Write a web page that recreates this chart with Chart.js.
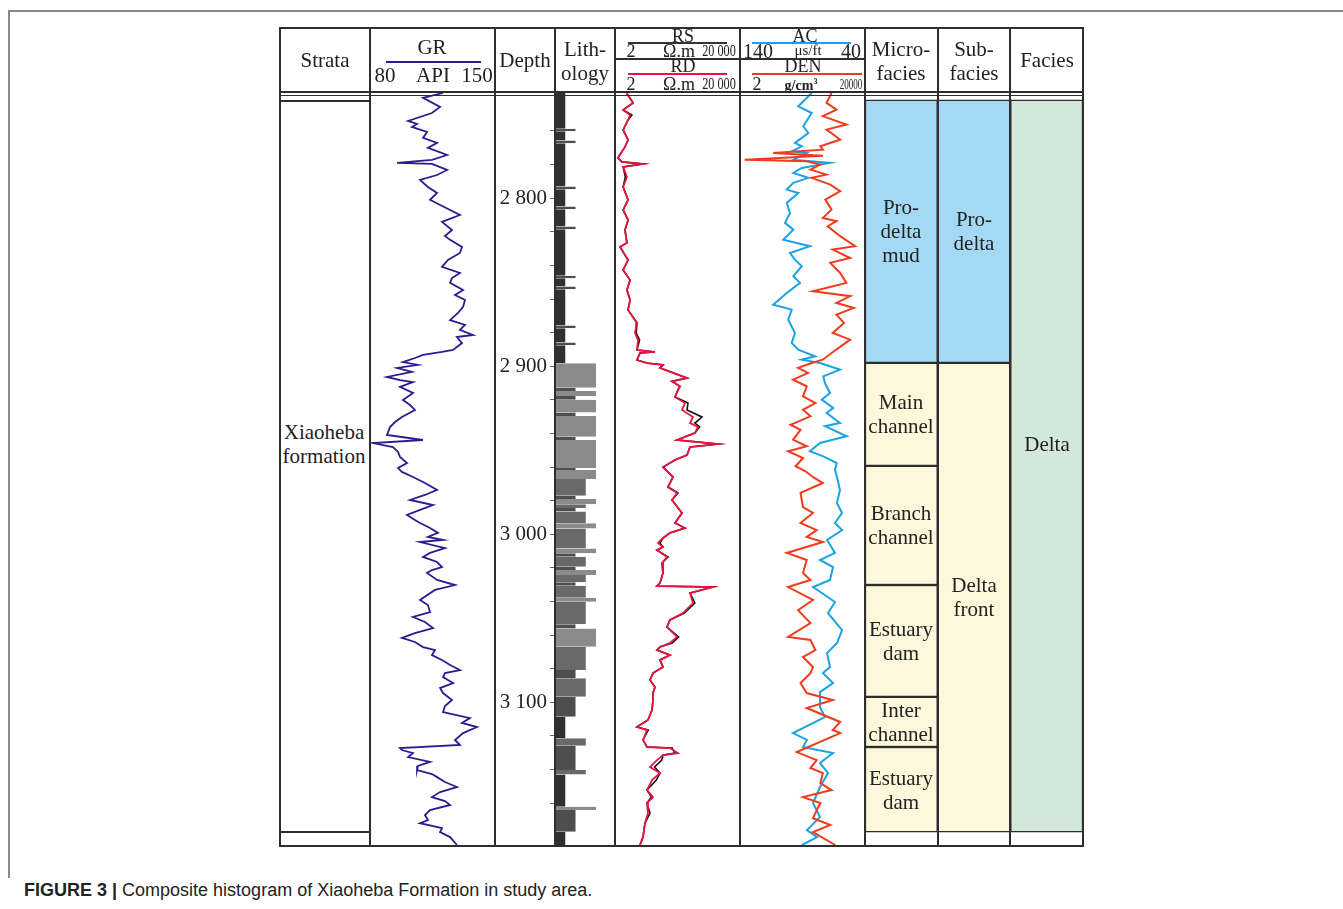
<!DOCTYPE html>
<html>
<head>
<meta charset="utf-8">
<script src="https://cdn.jsdelivr.net/npm/chart.js@4.4.1/dist/chart.umd.min.js"></script>
<style>
  body { margin: 0; background: #fff; width: 1343px; height: 909px; position: relative; overflow: hidden;
         font-family: "Liberation Serif", "Times New Roman", serif; color: #222; }
  .hl { position: absolute; background: #2e2e2e; height: 2px; z-index: 3; }
  .vl { position: absolute; background: #2e2e2e; width: 2px; z-index: 3; }
  .t { position: absolute; font-size: 21px; line-height: 24px; text-align: center; white-space: nowrap;
       transform: translate(-50%, -50%); z-index: 4; }
  .trk { position: absolute; top: 93px; }
  #caption { position: absolute; left: 24px; top: 880px; font-family: "Liberation Sans", Arial, sans-serif;
             font-size: 18px; color: #222; white-space: nowrap; }
</style>
</head>
<body>
<div id="frame"></div>

<canvas id="grChart" class="trk" width="123" height="753" style="left:371px"></canvas>
<canvas id="lithChart" class="trk" width="120" height="753" style="left:495px"></canvas>
<canvas id="resChart" class="trk" width="124" height="753" style="left:616px"></canvas>
<canvas id="acChart" class="trk" width="124" height="753" style="left:741px"></canvas>
<canvas id="faciesChart" class="trk" width="218" height="753" style="left:865px"></canvas>

<div id="caption"><b>FIGURE 3 |</b> Composite histogram of Xiaoheba Formation in study area.</div>

<script>
// ---- data ----
const grDepth = [2737.4, 2740.3, 2745.7, 2749.3, 2754.0, 2755.8, 2757.6, 2760.6, 2764.1, 2767.1, 2770.1, 2774.3,
  2777.2, 2779.0, 2779.6, 2783.2, 2786.2, 2789.1, 2793.3, 2796.9, 2801.0, 2807.0, 2810.0, 2814.1, 2818.9, 2822.5,
  2824.8, 2829.0, 2832.6, 2836.8, 2840.9, 2844.5, 2847.5, 2850.4, 2854.6, 2857.6, 2860.6, 2864.7, 2868.3, 2872.5,
  2875.4, 2878.4, 2881.4, 2882.6, 2886.2, 2890.3, 2891.5, 2893.3, 2895.1, 2897.5, 2899.2, 2901.0, 2903.4, 2906.4,
  2908.2, 2909.4, 2912.3, 2915.9, 2920.1, 2923.1, 2926.0, 2930.2, 2933.2, 2936.2, 2940.9, 2943.9, 2945.7, 2948.1,
  2951.0, 2954.0, 2957.6, 2960.6, 2962.9, 2965.9, 2969.5, 2973.6, 2976.6, 2979.6, 2982.6, 2985.5, 2988.5, 2991.5,
  2993.3, 2996.3, 2999.2, 3001.6, 3003.4, 3004.6, 3008.2, 3011.1, 3013.5, 3016.5, 3019.5, 3021.3, 3023.0, 3027.2,
  3030.2, 3033.1, 3039.1, 3042.1, 3046.3, 3049.2, 3052.2, 3055.8, 3058.8, 3061.7, 3064.1, 3067.1, 3068.9, 3071.9,
  3074.8, 3077.8, 3080.8, 3082.6, 3085.0, 3088.5, 3091.5, 3094.5, 3098.6, 3102.2, 3105.8, 3109.4, 3112.3, 3114.7,
  3118.3, 3122.4, 3125.4, 3127.2, 3128.4, 3130.2, 3132.6, 3135.5, 3137.9, 3140.3, 3142.7, 3144.5, 3147.4, 3150.4,
  3153.4, 3156.4, 3158.8, 3161.1, 3164.1, 3167.1, 3170.1, 3171.9, 3174.8, 3177.2, 3180.2, 3184.9];
const grValue = [121.0, 109.6, 119.3, 114.7, 101.1, 106.2, 103.3, 111.9, 109.6, 117.6, 112.4, 123.3,
  114.7, 94.8, 114.7, 123.3, 117.6, 107.9, 112.4, 117.6, 113.6, 125.0, 130.6, 120.4, 126.1, 122.1,
  125.0, 131.8, 130.6, 123.8, 120.4, 130.6, 126.1, 125.0, 132.4, 127.8, 133.5, 132.4, 129.5, 125.0,
  133.5, 130.6, 138.0, 128.9, 131.8, 126.7, 120.4, 109.6, 105.0, 98.2, 106.7, 94.8, 103.3, 89.1,
  96.5, 103.9, 96.5, 103.9, 98.2, 102.2, 105.0, 97.6, 93.7, 90.8, 89.1, 109.6, 81.1, 92.5,
  95.4, 96.5, 100.5, 95.4, 97.6, 103.9, 110.7, 117.6, 110.7, 102.2, 115.3, 107.9, 100.5, 105.0,
  107.9, 113.6, 118.1, 112.4, 121.0, 107.9, 122.1, 113.6, 109.6, 117.6, 120.4, 114.7, 111.9, 117.6,
  127.8, 116.4, 107.9, 112.4, 113.6, 103.9, 110.7, 115.3, 105.0, 97.6, 105.0, 109.6, 116.4, 114.7,
  120.4, 125.0, 130.6, 122.1, 121.0, 126.7, 119.3, 121.0, 126.1, 122.1, 121.0, 136.3, 131.8, 140.3,
  132.4, 127.8, 130.6, 96.5, 97.6, 103.9, 101.1, 113.6, 106.7, 106.2, 114.7, 117.6, 122.1, 128.9,
  119.3, 114.7, 122.1, 125.0, 113.6, 110.7, 112.4, 107.9, 120.4, 119.3, 125.0, 128.9];

const resDepth = [2737.4, 2743.3, 2747.5, 2750.5, 2753.4, 2759.4, 2765.3, 2769.5, 2776.0, 2778.4, 2779.6, 2781.4,
  2787.4, 2793.3, 2801.0, 2807.0, 2812.9, 2818.9, 2826.6, 2829.0, 2836.8, 2842.7, 2848.7, 2854.6, 2860.6, 2866.5,
  2874.3, 2880.2, 2884.4, 2890.3, 2891.5, 2892.1, 2896.3, 2898.1, 2899.2, 2901.0, 2905.0, 2907.0, 2909.0, 2912.0,
  2914.1, 2918.3, 2921.9, 2926.0, 2930.2, 2933.8, 2936.1, 2939.7, 2943.9, 2946.3, 2948.1, 2952.8, 2955.8, 2960.0,
  2965.9, 2971.9, 2975.4, 2979.6, 2987.3, 2993.3, 2996.3, 2999.2, 3002.2, 3005.2, 3007.6, 3009.4, 3013.5, 3017.1,
  3023.0, 3029.0, 3030.8, 3031.4, 3035.0, 3040.9, 3046.9, 3051.0, 3055.2, 3061.1, 3064.7, 3067.1, 3068.9, 3071.9,
  3074.8, 3079.0, 3082.6, 3086.7, 3090.9, 3094.5, 3098.6, 3104.6, 3110.5, 3114.7, 3116.5, 3122.4, 3126.6, 3127.2,
  3130.2, 3131.4, 3134.4, 3138.5, 3142.1, 3146.3, 3152.2, 3156.4, 3159.9, 3165.9, 3171.9, 3180.2, 3184.9];
const rdValue = [4.4, 7.1, 3.4, 5.7, 4.9, 3.4, 4.9, 3.9, 2.3, 3.1, 14.9, 3.4,
  4.5, 3.4, 4.9, 3.4, 4.9, 3.9, 4.5, 2.7, 4.9, 3.4, 5.7, 4.5, 5.7, 4.9,
  9.5, 8.2, 10.3, 9.5, 36.2, 11.9, 9.5, 20, 65.6, 52.5, 200, 390, 128, 232,
  200, 160, 336, 269, 610, 488, 883, 706, 186, 3900, 488, 390, 160, 65.6,
  138, 95, 186, 128, 269, 160, 336, 110, 65.6, 45.3, 65.6, 42, 88.3, 61,
  65.6, 52.5, 42, 2690, 488, 610, 290, 110, 88.3, 186, 110, 52.5, 42, 110,
  52.5, 65.6, 31.3, 25, 36.2, 31.3, 31.3, 29, 21.5, 9.5, 20, 14.9, 20, 110,
  200, 65.6, 42, 25, 52.5, 29, 20, 31.3, 20, 21.5, 17.2, 14.9, 11.9];
const rsValue = [4.4, 7.1, 3.4, 6.5, 4.9, 3.4, 4.9, 3.9, 2.3, 3.1, 14.9, 3.4,
  4.0, 3.4, 4.9, 3.4, 4.9, 3.9, 4.5, 2.7, 4.9, 3.4, 5.7, 4.5, 5.7, 4.9,
  9.5, 9.0, 11.5, 9.5, 36.2, 11.9, 9.5, 20, 65.6, 52.5, 200, 390, 128, 232,
  200, 160, 420, 390, 1190, 700, 1000, 706, 186, 3900, 488, 390, 160, 65.6,
  138, 95, 200, 128, 269, 160, 336, 110, 65.6, 52, 65.6, 42, 95, 61,
  65.6, 52.5, 42, 2690, 488, 700, 320, 110, 88.3, 210, 130, 52.5, 42, 110,
  52.5, 65.6, 31.3, 25, 36.2, 31.3, 31.3, 29, 21.5, 9.5, 22, 14.9, 20, 130,
  160, 65.6, 60, 35, 52.5, 40, 20, 28, 20, 25, 17.2, 14.9, 11.9];

const acDepth = [2737.4, 2745.3, 2749.3, 2757.2, 2761.2, 2767.1, 2769.1, 2772.1, 2773.1, 2777.1, 2779.0, 2782.0,
  2785.0, 2787.9, 2790.9, 2794.9, 2796.9, 2802.8, 2808.8, 2814.7, 2818.7, 2824.7, 2828.6, 2832.6, 2836.6, 2840.5,
  2846.4, 2850.4, 2856.4, 2863.4, 2866.3, 2872.3, 2880.2, 2886.2, 2890.1, 2894.1, 2896.1, 2898.1, 2902.0, 2906.0,
  2910.0, 2915.9, 2919.9, 2924.8, 2927.8, 2933.8, 2935.7, 2941.7, 2945.7, 2950.6, 2953.6, 2957.6, 2961.6, 2965.9,
  2973.6, 2981.4, 2987.3, 2993.3, 2997.5, 3003.4, 3011.1, 3015.3, 3019.5, 3027.2, 3031.4, 3040.3, 3046.9, 3057.0,
  3064.7, 3070.7, 3079.0, 3082.6, 3088.5, 3093.9, 3102.8, 3108.8, 3118.3, 3122.4, 3126.6, 3130.2, 3136.1, 3142.1,
  3150.4, 3159.9, 3168.3, 3176.0, 3180.2, 3184.9];
const acValue = [83.0, 93.8, 83.0, 89.8, 85.7, 96.5, 91.0, 99.1, 87.0, 97.8, 68.2, 91.0,
  97.8, 85.7, 97.8, 103.1, 93.8, 103.1, 100.5, 104.5, 97.8, 105.9, 84.4, 100.5, 96.5, 91.0,
  97.8, 92.4, 103.1, 114.0, 99.1, 101.9, 96.5, 99.1, 93.8, 80.3, 91.0, 76.3, 60.2, 73.6,
  72.3, 68.2, 74.9, 65.6, 70.9, 60.2, 72.3, 54.8, 76.3, 84.4, 73.6, 62.8, 64.2, 62.6,
  60.2, 62.6, 58.5, 64.2, 58.5, 70.6, 64.2, 76.3, 65.8, 68.2, 81.9, 64.2, 69.8, 58.5,
  62.6, 70.6, 68.2, 73.9, 65.8, 76.3, 76.3, 72.3, 98.1, 86.8, 90.0, 65.8, 76.3, 69.8,
  76.3, 81.9, 76.3, 86.8, 78.7, 90.8];

const denDepth = [2737.4, 2743.3, 2747.3, 2751.2, 2756.2, 2759.2, 2765.1, 2769.1, 2771.1, 2773.1, 2774.7, 2777.1,
  2778.0, 2780.0, 2783.0, 2786.0, 2787.9, 2791.9, 2795.8, 2800.8, 2806.8, 2811.7, 2813.7, 2816.7, 2822.6, 2828.6,
  2830.6, 2835.6, 2838.5, 2844.5, 2850.4, 2855.4, 2858.3, 2862.3, 2865.3, 2869.3, 2874.2, 2880.2, 2884.2, 2892.1,
  2896.1, 2898.1, 2901.0, 2904.0, 2908.0, 2911.9, 2917.9, 2921.9, 2925.9, 2929.8, 2934.8, 2937.8, 2943.7, 2947.6,
  2950.6, 2954.6, 2959.5, 2962.5, 2965.9, 2969.5, 2975.4, 2983.8, 2987.3, 2993.3, 2997.5, 3001.6, 3004.6, 3011.1,
  3015.3, 3023.0, 3027.2, 3031.4, 3039.1, 3045.1, 3052.8, 3061.1, 3062.9, 3068.9, 3073.0, 3079.0, 3082.6, 3088.5,
  3094.5, 3098.6, 3103.4, 3111.7, 3116.5, 3118.3, 3129.6, 3134.4, 3139.1, 3142.1, 3148.0, 3152.2, 3156.4, 3159.9,
  3168.9, 3173.0, 3177.2, 3184.9];
const denValue = [2.73, 2.69, 2.77, 2.66, 2.85, 2.69, 2.80, 2.64, 2.66, 2.26, 2.66, 2.03,
  2.53, 2.64, 2.56, 2.69, 2.57, 2.72, 2.80, 2.68, 2.73, 2.66, 2.77, 2.70, 2.80, 2.92,
  2.74, 2.88, 2.72, 2.80, 2.85, 2.58, 2.88, 2.77, 2.91, 2.77, 2.83, 2.74, 2.88, 2.73,
  2.66, 2.57, 2.46, 2.54, 2.42, 2.53, 2.50, 2.60, 2.50, 2.56, 2.40, 2.48, 2.42, 2.53,
  2.38, 2.50, 2.44, 2.52, 2.58, 2.66, 2.48, 2.50, 2.58, 2.48, 2.61, 2.53, 2.66, 2.37,
  2.53, 2.50, 2.56, 2.38, 2.58, 2.46, 2.56, 2.38, 2.56, 2.60, 2.50, 2.58, 2.56, 2.48,
  2.53, 2.74, 2.53, 2.80, 2.74, 2.80, 2.45, 2.61, 2.56, 2.66, 2.64, 2.73, 2.50, 2.64,
  2.58, 2.72, 2.58, 2.76];

// lithology: 1 mudstone, 2 siltstone, 3 fine sandstone, 4 sandstone
const lithTop = [2737.4, 2758.6, 2760.2, 2765.7, 2767.3, 2793.1, 2794.7, 2805.0, 2806.6, 2816.9, 2818.5, 2846.1,
  2847.7, 2852.6, 2854.2, 2875.8, 2877.4, 2885.9, 2887.5, 2898.2, 2912.8, 2914.7, 2917.7, 2920.0, 2927.6, 2929.6,
  2941.9, 2943.9, 2960.6, 2961.8, 2967.1, 2977.0, 2979.0, 2982.2, 2984.4, 2986.5, 2993.5, 2996.5, 3008.4, 3011.3,
  3013.3, 3019.3, 3021.3, 3024.2, 3028.6, 3030.6, 3037.7, 3040.1, 3053.6, 3056.0, 3066.9, 3080.8, 3085.7, 3096.7,
  3108.6, 3121.4, 3125.8, 3140.3, 3142.9, 3162.1, 3164.1, 3177.0];
const lithBase = [2758.6, 2760.2, 2765.7, 2767.3, 2793.1, 2794.7, 2805.0, 2806.6, 2816.9, 2818.5, 2846.1, 2847.7,
  2852.6, 2854.2, 2875.8, 2877.4, 2885.9, 2887.5, 2898.2, 2912.8, 2914.7, 2917.7, 2920.0, 2927.6, 2929.6, 2941.9,
  2943.9, 2960.6, 2961.8, 2967.1, 2977.0, 2979.0, 2982.2, 2984.4, 2986.5, 2993.5, 2996.5, 3008.4, 3011.3, 3013.3,
  3019.3, 3021.3, 3024.2, 3028.6, 3030.6, 3037.7, 3040.1, 3053.6, 3056.0, 3066.9, 3080.8, 3085.7, 3096.7, 3108.6,
  3121.4, 3125.8, 3140.3, 3142.9, 3162.1, 3164.1, 3177.0, 3185.5];
const lithClass = [1, 2, 1, 2, 1, 2, 1, 2, 1, 2, 1, 2,
  1, 2, 1, 2, 1, 2, 1, 4, 2, 4, 2, 4, 2, 4,
  2, 4, 2, 4, 3, 2, 4, 3, 2, 3, 4, 3, 4, 2,
  3, 2, 4, 3, 2, 3, 4, 3, 2, 4, 3, 2, 3, 2,
  1, 3, 2, 3, 1, 4, 2, 1];

const faciesColumns = ["Micro-facies", "Sub-facies", "Facies"];
const microLabels = ["Pro-\ndelta\nmud", "Main\nchannel", "Branch\nchannel", "Estuary\ndam", "Inter\nchannel", "Estuary\ndam"];
const microTop = [2741.5, 2898.0, 2959.3, 3030.2, 3096.8, 3126.6];
const microBase = [2898.0, 2959.3, 3030.2, 3096.8, 3126.6, 3177.2];
const subLabels = ["Pro-\ndelta", "Delta\nfront"];
const subTop = [2741.5, 2898.0];
const subBase = [2898.0, 3177.2];
const faciesLabels = ["Delta"];
const faciesTop = [2741.5];
const faciesBase = [3177.2];

// ---- layout ----
const depthMin = 2737.4, depthMax = 3185.5;

function depthAxis() {
  return { type: "linear", reverse: true, min: depthMin, max: depthMax, display: false };
}
function baseOptions(scales) {
  return {
    responsive: false, animation: false, indexAxis: "y",
    layout: { padding: 0 },
    plugins: { legend: { display: false }, tooltip: { enabled: false } },
    elements: { point: { radius: 0 }, line: { tension: 0 } },
    scales: scales
  };
}
const toPoints = (depths, vals) => depths.map((d, i) => ({ x: vals[i], y: d }));

// GR
new Chart(document.getElementById("grChart"), {
  type: "line",
  data: { datasets: [{ data: toPoints(grDepth, grValue), borderColor: "#2b1c8f", borderWidth: 1.8 }] },
  options: baseOptions({ x: { type: "linear", min: 80, max: 150, display: false }, y: depthAxis() })
});

// depth axis + lithology
const lithColors = { 1: "#30302c", 2: "#4e4e4e", 3: "#696969", 4: "#8b8b8b" };
const lithSets = [1, 2, 3, 4].map(cls => {
  const pts = [];
  lithClass.forEach((c, i) => {
    if (c !== cls) return;
    pts.push({ x: c, y: lithTop[i] }, { x: c, y: lithBase[i] }, { x: null, y: lithBase[i] });
  });
  return { data: pts, borderColor: "transparent", backgroundColor: lithColors[cls], fill: "origin" };
});
const depthY = depthAxis();
Object.assign(depthY, {
  display: true, position: "left",
  afterFit: s => { s.width = 60; s.paddingTop = 0; s.paddingBottom = 0; },
  afterBuildTicks: s => { s.ticks = s.ticks.filter(t => Math.abs(t.value % 20) < 1e-6); },
  ticks: {
    stepSize: 20, autoSkip: false, padding: 3, color: "#222",
    font: { family: "Liberation Serif", size: 21 },
    callback: v => (v % 100 === 0 ? String(v).replace(/(\d)(\d{3})$/, "$1 $2") : "")
  },
  grid: { drawOnChartArea: false, drawTicks: true, tickLength: 5, color: "#666", lineWidth: 1 },
  border: { display: true, color: "#2e2e2e", width: 2 }
});
new Chart(document.getElementById("lithChart"), {
  type: "line",
  data: { datasets: lithSets },
  options: baseOptions({ x: { type: "linear", min: 0, max: 5.85, display: false }, y: depthY })
});

// RS / RD
new Chart(document.getElementById("resChart"), {
  type: "line",
  data: { datasets: [
    { label: "RD", data: toPoints(resDepth, rdValue), borderColor: "#e8143f", borderWidth: 1.8 },
    { label: "RS", data: toPoints(resDepth, rsValue), borderColor: "#111", borderWidth: 1.6 }
  ] },
  options: baseOptions({ x: { type: "logarithmic", min: 2, max: 20000, display: false }, y: depthAxis() })
});

// AC / DEN
new Chart(document.getElementById("acChart"), {
  type: "line",
  data: { datasets: [
    { label: "DEN", data: toPoints(denDepth, denValue), xAxisID: "xDen", borderColor: "#f23a1c", borderWidth: 2 },
    { label: "AC", data: toPoints(acDepth, acValue), xAxisID: "xAc", borderColor: "#1ba3e6", borderWidth: 2 }
  ] },
  options: baseOptions({
    xAc: { type: "linear", axis: "x", min: 40, max: 140, reverse: true, display: false },
    xDen: { type: "linear", axis: "x", min: 2, max: 3, display: false },
    y: depthAxis()
  })
});

// facies columns
const blue = "#a4d9f5", beige = "#fdf8dc", green = "#d3e8d9";
const bars = (col, tops, bases, colors) => ({
  data: tops.map((t, i) => ({ x: faciesColumns[col], y: [t, bases[i]] })),
  backgroundColor: colors, borderColor: "#2e2e2e", borderWidth: 1.5, borderSkipped: false,
  grouped: false, categoryPercentage: 1, barPercentage: 1
});
const faciesChart = new Chart(document.getElementById("faciesChart"), {
  type: "bar",
  data: { labels: faciesColumns, datasets: [
    bars(0, microTop, microBase, [blue, beige, beige, beige, beige, beige]),
    bars(1, subTop, subBase, [blue, beige]),
    bars(2, faciesTop, faciesBase, [green])
  ] },
  options: {
    responsive: false, animation: false, layout: { padding: 0 },
    plugins: { legend: { display: false }, tooltip: { enabled: false } },
    scales: { x: { type: "category", display: false }, y: depthAxis() }
  }
});

// ---- frame, headers and labels (html) ----
const frame = document.getElementById("frame");
function line(cls, x, y, len, color, th) {
  const d = document.createElement("div");
  d.className = cls;
  d.style.left = x + "px"; d.style.top = y + "px";
  if (cls === "hl") { d.style.width = len + "px"; if (th) d.style.height = th + "px"; }
  else { d.style.height = len + "px"; if (th) d.style.width = th + "px"; }
  if (color) d.style.background = color;
  frame.appendChild(d);
}
function text(str, x, y, extra) {
  const d = document.createElement("div");
  d.className = "t";
  d.style.left = x + "px"; d.style.top = y + "px";
  d.innerHTML = str;
  if (extra) Object.assign(d.style, extra);
  frame.appendChild(d);
  return d;
}
// outer figure box
line("hl", 8, 10, 1335, "#8a8a8a", 2);
line("vl", 8, 10, 868, "#8a8a8a", 2);
// table
line("hl", 279, 27, 805);
line("hl", 279, 91, 805);
line("hl", 279, 95, 805, null, 1);
line("hl", 279, 100, 91, null, 1.5);
line("hl", 279, 831, 91, null, 1.5);
line("hl", 279, 845, 805);
line("hl", 615, 58, 250, null, 1.5);
[279, 369, 494, 554, 614, 739, 864, 937, 1009, 1082].forEach(x => line("vl", x, 27, 820));
// curve keys in header
line("hl", 386, 61, 95, "#2b1c8f");
line("hl", 628, 42, 99, "#333");
line("hl", 628, 73, 99, "#e8143f");
line("hl", 752, 42, 99, "#1ba3e6");
line("hl", 752, 73, 110, "#f23a1c");

const narrow = { fontSize: "17px", transform: "translate(-50%,-50%) scaleX(0.72)" };
text("Strata", 325, 60);
text("GR", 432, 47);
text("80", 385, 75);
text("API", 433, 75);
text("150", 477, 75);
text("Depth", 525, 60);
text("Lith-<br>ology", 585, 61);
text("RS", 683, 36, { fontSize: "18px" });
text("2", 631, 51, { fontSize: "18px" });
text("Ω.m", 679, 51, { fontSize: "18px" });
text("20 000", 719, 51, narrow);
text("RD", 683, 66, { fontSize: "18px" });
text("2", 631, 84, { fontSize: "18px" });
text("Ω.m", 679, 84, { fontSize: "18px" });
text("20 000", 719, 84, narrow);
text("AC", 805, 36, { fontSize: "18px" });
text("140", 758, 51, { fontSize: "20px" });
text("μs/ft", 808, 50, { fontSize: "15px" });
text("40", 851, 51, { fontSize: "20px" });
text("DEN", 803, 66, { fontSize: "18px" });
text("2", 757, 84, { fontSize: "18px" });
text("g/cm<sup style='font-size:8px'>3</sup>", 801, 84, { fontSize: "14px", fontWeight: "bold" });
text("20000", 851, 85, { fontSize: "14px", transform: "translate(-50%,-50%) scaleX(0.65)" });
text("Micro-<br>facies", 901, 61);
text("Sub-<br>facies", 974, 61);
text("Facies", 1047, 60);
text("Xiaoheba<br>formation", 324, 444);

// box labels placed from the facies chart's own depth scale
const yScale = faciesChart.scales.y;
const colX = [901, 974, 1047];
const placeLabels = (labels, tops, bases, col) => labels.forEach((lab, i) => {
  const mid = (tops[i] + bases[i]) / 2;
  text(lab.replace(/\n/g, "<br>"), colX[col], 93 + yScale.getPixelForValue(mid));
});
placeLabels(microLabels, microTop, microBase, 0);
placeLabels(subLabels, subTop, subBase, 1);
text(faciesLabels[0], colX[2], 444);
</script>
</body>
</html>
